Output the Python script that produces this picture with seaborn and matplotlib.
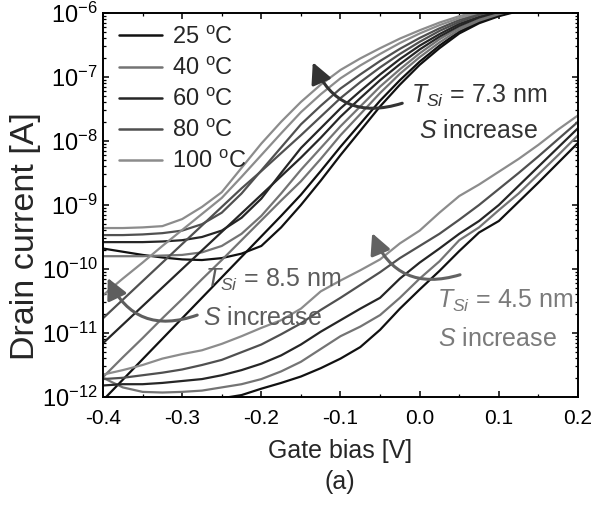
import numpy as np
import pandas as pd
import matplotlib
matplotlib.use("Agg")
import matplotlib.pyplot as plt
import seaborn as sns
from matplotlib.patches import FancyArrowPatch
from matplotlib.ticker import LogLocator, NullFormatter, FixedLocator

# ---------------- data (log10 of drain current [A]) ----------------
gate_bias = [-0.400, -0.375, -0.350, -0.325, -0.300, -0.275, -0.250, -0.225,
             -0.200, -0.175, -0.150, -0.125, -0.100, -0.075, -0.050, -0.025,
             0.000, 0.025, 0.050, 0.075, 0.100, 0.125, 0.150, 0.175, 0.200]
N = None
temperatures = ["25", "40", "60", "80", "100"]

# family with leakage floor (upper bundle)
floor_100 = [-9.36, -9.36, -9.35, -9.33, -9.22, -9.03, -8.80, -8.42, -8.04, -7.70, -7.39, -7.12,
             -6.89, -6.71, -6.55, -6.40, -6.27, -6.15, -6.05, -5.97, N, N, N, N, N]
floor_80 = [-9.47, -9.47, -9.46, -9.44, -9.40, -9.30, -9.12, -8.82, -8.46, -8.10, -7.74, -7.45,
            -7.18, -6.96, -6.75, -6.56, -6.39, -6.24, -6.11, -6.01, -5.93, N, N, N, N]
floor_60 = [-9.58, -9.58, -9.58, -9.57, -9.55, -9.50, -9.40, -9.20, -8.90, -8.50, -8.11, -7.80,
            -7.49, -7.22, -6.96, -6.72, -6.51, -6.33, -6.17, -6.06, -5.97, N, N, N, N]
floor_40 = [-9.80, -9.80, -9.80, -9.79, -9.78, -9.74, -9.64, -9.45, -9.17, -8.82, -8.45, -8.11,
            -7.77, -7.46, -7.15, -6.88, -6.63, -6.41, -6.23, -6.10, -6.00, -5.93, N, N, N]
floor_25 = [-9.68, -9.73, -9.78, -9.82, -9.85, -9.86, -9.83, -9.76, -9.64, -9.35, -9.00, -8.62,
            -8.22, -7.84, -7.46, -7.12, -6.81, -6.55, -6.32, -6.16, -6.05, -5.97, N, N, N]

# family with straight subthreshold lines (upper bundle)
diag_100 = [-10.41, -10.15, -9.90, -9.64, -9.39, -9.14, -8.89, -8.56, -8.22, -7.88, -7.55, -7.27,
            -7.02, -6.82, -6.64, -6.47, -6.32, -6.19, -6.08, -5.99, -5.92, N, N, N, N]
diag_80 = [-10.77, -10.48, -10.19, -9.90, -9.61, -9.32, -9.03, -8.74, -8.47, -8.19, -7.91, -7.62,
           -7.33, -7.08, -6.85, -6.64, -6.45, -6.28, -6.14, -6.03, -5.95, N, N, N, N]
diag_60 = [-11.16, -10.87, -10.58, -10.29, -10.00, -9.71, -9.42, -9.13, -8.84, -8.55, -8.26, -7.95,
           -7.62, -7.33, -7.05, -6.80, -6.57, -6.37, -6.20, -6.07, -5.98, N, N, N, N]
diag_40 = [-11.69, -11.38, -11.08, -10.77, -10.47, -10.16, -9.86, -9.55, -9.24, -8.93, -8.63, -8.28,
           -7.91, -7.58, -7.25, -6.95, -6.69, -6.46, -6.26, -6.12, -6.02, -5.94, N, N, N]
diag_25 = [-12.05, -11.73, -11.41, -11.09, -10.77, -10.45, -10.13, -9.81, -9.49, -9.17, -8.84, -8.47,
           -8.09, -7.73, -7.37, -7.05, -6.76, -6.51, -6.29, -6.14, -6.04, -5.96, N, N, N]

# T_Si = 4.5 nm family (lower right)
thin_100 = [-11.65, -11.58, -11.50, -11.40, -11.33, -11.27, -11.17, -11.05, -10.92, -10.80, -10.62,
            -10.35, -10.18, -10.02, -9.85, -9.60, -9.40, -9.12, -8.86, -8.68, -8.48, -8.28, -8.06,
            -7.82, -7.60]
thin_80 = [-11.72, -11.70, -11.66, -11.62, -11.57, -11.50, -11.42, -11.30, -11.18, -11.02, -10.85,
           -10.64, -10.45, -10.25, -10.05, -9.83, -9.64, -9.45, -9.23, -9.00, -8.75, -8.50, -8.24,
           -7.97, -7.70]
thin_60 = [-11.82, -11.80, -11.80, -11.78, -11.75, -11.72, -11.66, -11.58, -11.48, -11.35, -11.18,
           -10.98, -10.80, -10.62, -10.45, -10.15, -9.90, -9.68, -9.45, -9.25, -9.00, -8.70, -8.40,
           -8.10, -7.80]
thin_40 = [-11.70, -11.85, -11.92, -11.93, -11.92, -11.90, -11.85, -11.80, -11.72, -11.60, -11.45,
           -11.25, -11.05, -10.90, -10.72, -10.45, -10.15, -9.88, -9.55, -9.35, -9.08, -8.82, -8.52,
           -8.22, -7.91]
thin_25 = [N, N, N, N, N, N, -12.02, -11.97, -11.87, -11.78, -11.68, -11.55, -11.40, -11.22, -10.95,
           -10.62, -10.32, -10.03, -9.72, -9.43, -9.25, -8.95, -8.65, -8.34, -8.03]

curves = [
    ("floor", "100", floor_100), ("floor", "80", floor_80), ("floor", "60", floor_60),
    ("floor", "40", floor_40), ("floor", "25", floor_25),
    ("diag", "100", diag_100), ("diag", "80", diag_80), ("diag", "60", diag_60),
    ("diag", "40", diag_40), ("diag", "25", diag_25),
    ("thin", "100", thin_100), ("thin", "80", thin_80), ("thin", "60", thin_60),
    ("thin", "40", thin_40), ("thin", "25", thin_25),
]

def tlabel(t):
    return t + r" $^{\mathrm{o}}$C"

rows = []
for fam, t, vals in curves:
    for x, v in zip(gate_bias, vals):
        if v is not None:
            rows.append({"vg": x, "current": 10.0 ** v, "temp": tlabel(t), "curve": fam + t})
df = pd.DataFrame(rows)

palette = {tlabel("25"): "#111111", tlabel("40"): "#747474", tlabel("60"): "#262626",
           tlabel("80"): "#505050", tlabel("100"): "#8c8c8c"}

# ---------------- style ----------------
sns.set_theme(style="ticks")
plt.rcParams["font.family"] = ["Liberation Sans", "DejaVu Sans"]
plt.rcParams["mathtext.fontset"] = "custom"
plt.rcParams["mathtext.rm"] = "Liberation Sans"
plt.rcParams["mathtext.it"] = "Liberation Sans:italic"
plt.rcParams["mathtext.bf"] = "Liberation Sans:bold"
plt.rcParams["axes.unicode_minus"] = False

fig = plt.figure(figsize=(5.99, 5.16), dpi=100)
ax = fig.add_axes([103 / 599, 1 - 397 / 516, 475 / 599, 384 / 516])

sns.lineplot(data=df, x="vg", y="current", hue="temp", units="curve", estimator=None,
             hue_order=[tlabel(t) for t in temperatures], palette=palette,
             linewidth=1.6, ax=ax, legend="full")

ax.set_yscale("log")
ax.set_xlim(-0.4, 0.2)
ax.set_ylim(1e-12, 1e-6)

xt = [-0.4, -0.3, -0.2, -0.1, 0.0, 0.1, 0.2]
ax.set_xticks(xt)
ax.set_xticklabels(["-0.4", "-0.3", "-0.2", "-0.1", "0.0", "0.1", "0.2"])
ax.xaxis.set_minor_locator(FixedLocator([-0.35, -0.25, -0.15, -0.05, 0.05, 0.15]))
ax.yaxis.set_major_locator(LogLocator(base=10, numticks=20))
ax.yaxis.set_minor_locator(LogLocator(base=10, subs=np.arange(2, 10), numticks=20))
ax.yaxis.set_minor_formatter(NullFormatter())

ax.tick_params(which="both", direction="in", top=True, right=True, colors="black")
ax.tick_params(which="major", length=4.5, width=1.1)
ax.tick_params(which="minor", length=2.5, width=0.9)
ax.tick_params(axis="x", which="major", labelsize=15, pad=9)
ax.tick_params(axis="y", which="major", labelsize=17, pad=4)
for s in ax.spines.values():
    s.set_linewidth(1.4)
    s.set_color("black")

ax.set_xlabel("Gate bias [V]", fontsize=18)
ax.set_ylabel("Drain current [A]", fontsize=24.5)
ax.xaxis.set_label_coords(0.5, -0.11)
ax.yaxis.set_label_coords(-0.13, 0.42)

handles, labels = ax.get_legend_handles_labels()
leg = ax.legend(handles, labels, loc="upper left", bbox_to_anchor=(0.034, 0.965),
                frameon=False, fontsize=17, handlelength=1.8, handletextpad=0.45,
                labelspacing=0.38, borderaxespad=0, borderpad=0)
for h in leg.get_lines():
    h.set_linewidth(1.8)

# annotations
def ann(px, py, s, color, size=18):
    ax.text((px - 103) / 475, (397 - py) / 384, s, transform=ax.transAxes,
            fontsize=size, color=color, ha="left", va="baseline")

ann(411, 103, r"$T_{Si}$ = 7.3 nm", "#333333")
ann(419, 138, r"$S$ increase", "#333333")
ann(205, 287, r"$T_{Si}$ = 8.5 nm", "#5c5c5c")
ann(203, 325, r"$S$ increase", "#5c5c5c")
ann(437, 308, r"$T_{Si}$ = 4.5 nm", "#7a7a7a")
ann(438, 346, r"$S$ increase", "#7a7a7a")

def arrow(tail, tip, color, rad):
    a = FancyArrowPatch(tail, tip, transform=ax.transData, connectionstyle=f"arc3,rad={rad}",
                        arrowstyle="-|>,head_length=0.7,head_width=0.35", mutation_scale=18,
                        shrinkA=0, shrinkB=0, color=color, lw=2.2, zorder=5)
    ax.add_patch(a)

arrow((-0.022, 10 ** -7.41), (-0.135, 10 ** -6.77), "#333333", -0.45)
arrow((-0.281, 10 ** -10.72), (-0.394, 10 ** -10.14), "#5e5e5e", -0.45)
arrow((0.051, 10 ** -10.09), (-0.060, 10 ** -9.44), "#626262", -0.45)

fig.text(340 / 599, 1 - 482 / 516, "(a)", fontsize=18, ha="center", va="center")

fig.savefig("out.png", dpi=100)
